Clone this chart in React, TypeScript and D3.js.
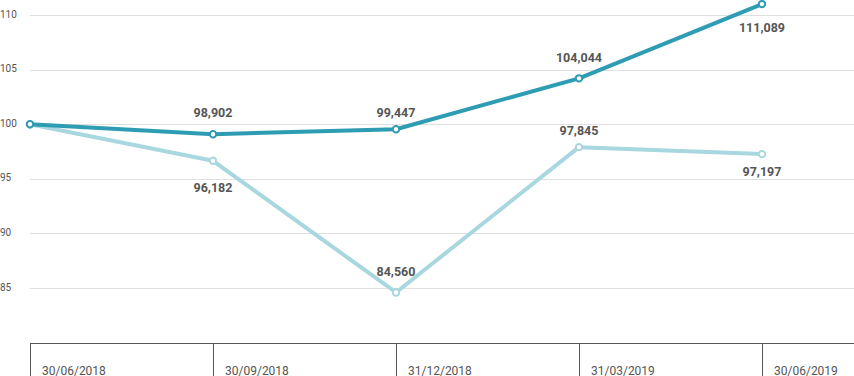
import React from "react";
import * as d3 from "d3";

const categories = ["30/06/2018", "30/09/2018", "31/12/2018", "31/03/2019", "30/06/2019"];
const seriesDark = [100, 99.08, 99.54, 104.2, 111.0];
const seriesLight = [100, 96.65, 84.59, 97.9, 97.26];
const darkLabels = ["", "98,902", "99,447", "104,044", "111,089"];
const lightLabels = ["", "96,182", "84,560", "97,845", "97,197"];
const darkLabelDy = [0, -17, -12, -16, 28];
const lightLabelDy = [0, 31, -16, -12, 22];
const yTicks = [85, 90, 95, 100, 105, 110];

const W = 854;
const H = 376;
const DARK = "#2e9cb2";
const LIGHT = "#a8d7df";
const TEXT = "#555";
const FONT = "Roboto, 'Noto Sans', sans-serif";

export default function App() {
  const x = d3.scalePoint<string>().domain(categories).range([30, 762]);
  const y = d3.scaleLinear().domain([80, 110]).range([342.6, 15]);
  const line = d3
    .line<number>()
    .x((_, i) => x(categories[i]) as number)
    .y((d) => y(d));

  const axisY = Math.round(y(80)) + 0.5;

  const series = [
    { values: seriesLight, color: LIGHT, labels: lightLabels, dy: lightLabelDy },
    { values: seriesDark, color: DARK, labels: darkLabels, dy: darkLabelDy },
  ];

  return (
    <svg
      width={W}
      height={H}
      style={{ position: "absolute", left: 0, top: 0, fontFamily: FONT }}
    >
      {yTicks.map((t) => (
        <g key={t}>
          <line
            x1={30}
            x2={W}
            y1={Math.round(y(t)) + 0.5}
            y2={Math.round(y(t)) + 0.5}
            stroke="#e0e0e0"
            strokeWidth={1}
          />
          <text x={0} y={y(t) + 2.5} fontSize={10} fill={TEXT}>
            {t}
          </text>
        </g>
      ))}
      <line x1={30} x2={W} y1={axisY} y2={axisY} stroke="#555" strokeWidth={1} />
      {categories.map((c) => {
        const cx = Math.round(x(c) as number) + 0.5;
        return (
          <g key={c}>
            <line x1={cx} x2={cx} y1={axisY} y2={H} stroke="#555" strokeWidth={1} />
            <text x={cx + 11.5} y={374.5} fontSize={12} fill={TEXT}>
              {c}
            </text>
          </g>
        );
      })}
      {series.map((s, si) => (
        <g key={si}>
          <path
            d={line(s.values) || ""}
            fill="none"
            stroke={s.color}
            strokeWidth={4}
            strokeLinejoin="round"
            strokeLinecap="round"
          />
          {s.values.map((v, i) => (
            <circle
              key={i}
              cx={x(categories[i]) as number}
              cy={y(v)}
              r={3.2}
              fill="#fff"
              stroke={s.color}
              strokeWidth={2}
            />
          ))}
        </g>
      ))}
      {series.map((s, si) =>
        s.values.map((v, i) =>
          s.labels[i] ? (
            <text
              key={`${si}-${i}`}
              x={x(categories[i]) as number}
              y={y(v) + s.dy[i]}
              textAnchor="middle"
              fontSize={12.5}
              fontWeight="bold"
              fill={TEXT}
            >
              {s.labels[i]}
            </text>
          ) : null
        )
      )}
    </svg>
  );
}
